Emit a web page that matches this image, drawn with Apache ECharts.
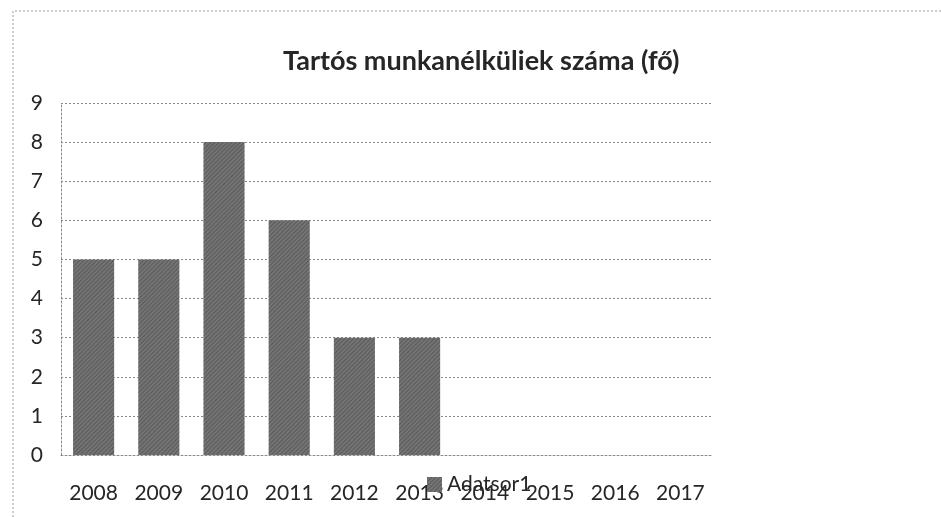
<!DOCTYPE html>
<html>
<head>
<meta charset="utf-8">
<script src="https://cdn.jsdelivr.net/npm/echarts@6/dist/echarts.min.js"></script>
<style>
  html, body { margin: 0; padding: 0; background: #fff; }
  #chart { width: 941px; height: 517px; }
</style>
</head>
<body>
<div id="chart"></div>
<script>
// Long-term unemployed per year
const years = ['2008', '2009', '2010', '2011', '2012', '2013', '2014', '2015', '2016', '2017'];
const counts = [5, 5, 8, 6, 3, 3, null, null, null, null];
const seriesName = 'Adatsor1';
const titleText = 'Tartós munkanélküliek száma (fő)';

const FONT = 'Lato, "Open Sans", sans-serif';
const TEXT = '#262626';
const DOT = '#8a8a8a';

const chart = echarts.init(document.getElementById('chart'), null, { renderer: 'canvas' });

chart.setOption({
  backgroundColor: '#ffffff',
  animation: false,
  title: {
    text: titleText,
    left: 283,
    top: 48,
    padding: 0,
    textStyle: { fontFamily: FONT, fontSize: 27, fontWeight: 'bold', color: TEXT }
  },
  legend: {
    data: [seriesName],
    left: 422,
    top: 469,
    itemWidth: 15,
    itemHeight: 15,
    icon: 'rect',
    itemGap: 5,
    textStyle: { fontFamily: FONT, fontSize: 21, color: TEXT }
  },
  grid: { left: 61, right: 228, top: 103, bottom: 62, containLabel: false },
  xAxis: {
    type: 'category',
    data: years,
    axisLine: { show: true, lineStyle: { color: DOT, type: [2, 2], width: 1 } },
    axisTick: { show: false },
    axisLabel: { fontFamily: FONT, fontSize: 21, color: TEXT, margin: 28, interval: 0 }
  },
  yAxis: {
    type: 'value',
    min: 0,
    max: 9,
    interval: 1,
    axisLine: { show: true, lineStyle: { color: DOT, type: [2, 2], width: 1 } },
    axisTick: { show: false },
    axisLabel: { fontFamily: FONT, fontSize: 21, color: TEXT, margin: 18 },
    splitLine: { show: true, lineStyle: { color: DOT, type: [2, 2], width: 1 } }
  },
  series: [{
    name: seriesName,
    type: 'bar',
    data: counts,
    barCategoryGap: '37%',
    itemStyle: {
      color: '#747474',
      decal: {
        symbol: 'rect',
        symbolSize: 1,
        dashArrayX: [1, 0],
        dashArrayY: [1, 2],
        rotation: -Math.PI / 4,
        color: 'rgba(40,40,40,0.35)'
      }
    }
  }],
  graphic: [
    {
      type: 'polyline',
      shape: { points: [[13, 517], [13, 11], [941, 11]] },
      style: { stroke: '#9a9a9a', lineWidth: 1, lineDash: [2, 2], fill: null },
      silent: true
    }
  ]
});
</script>
</body>
</html>
